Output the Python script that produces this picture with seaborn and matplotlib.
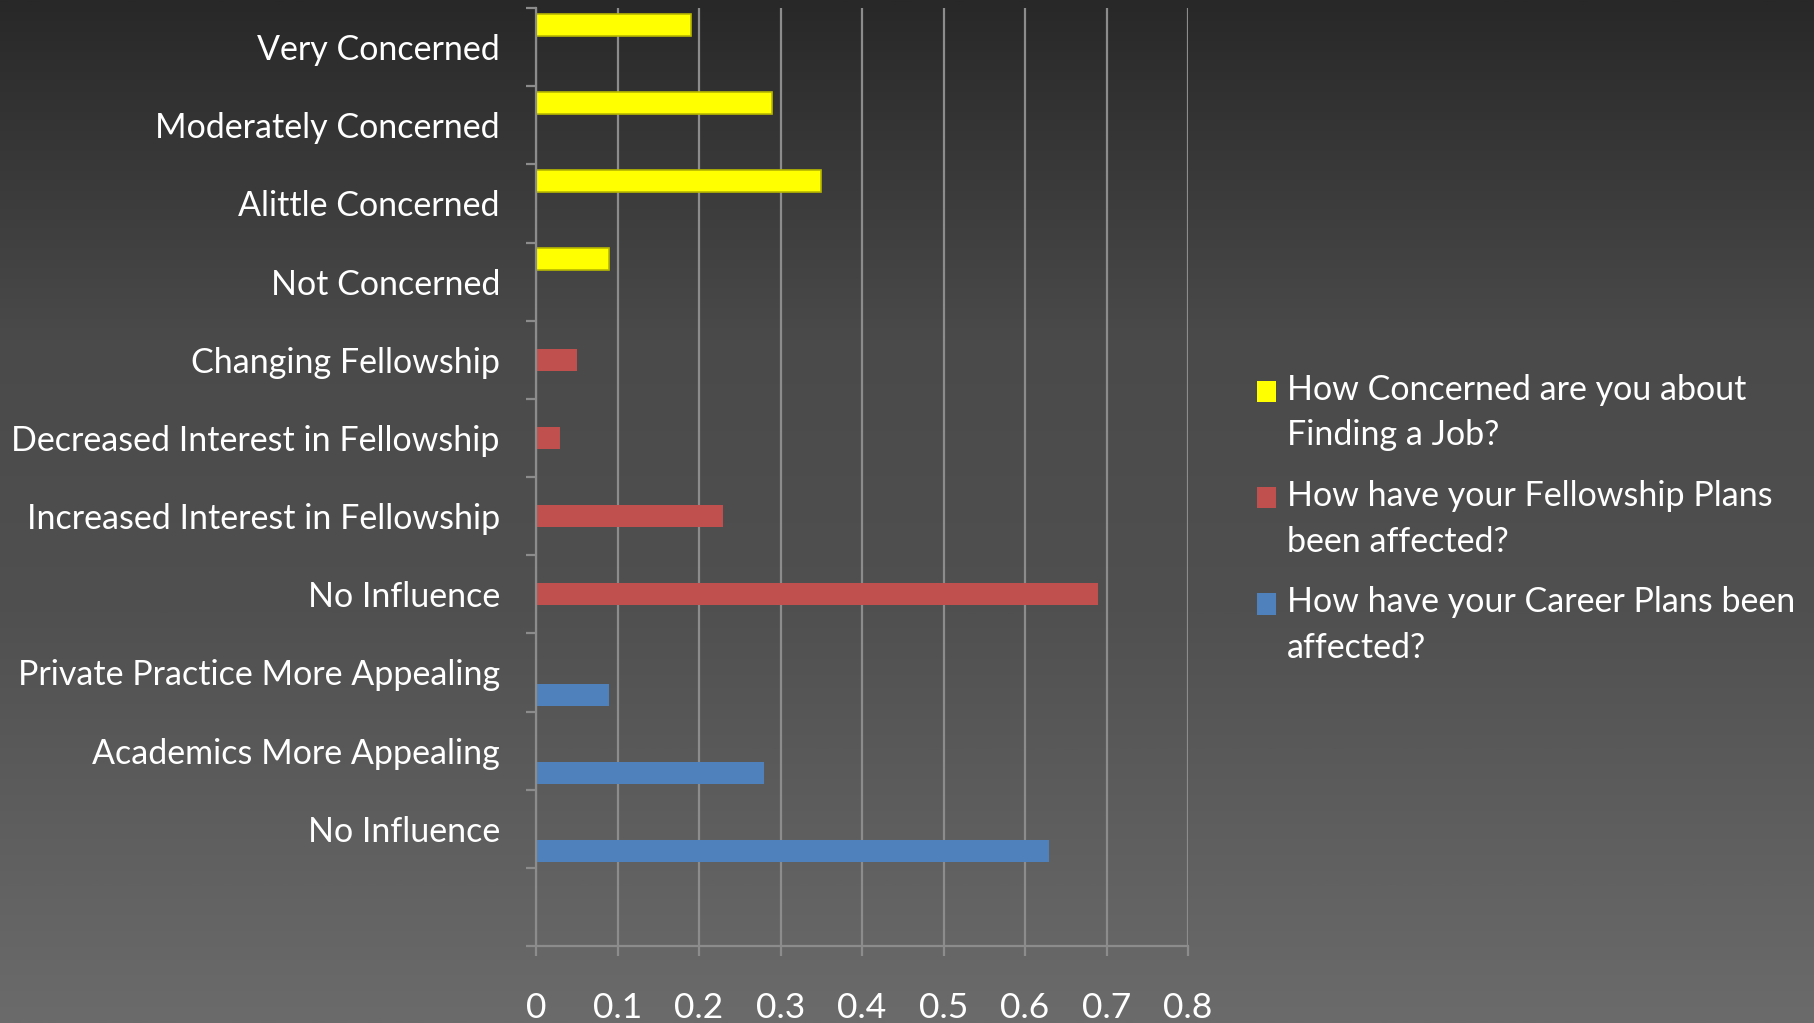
import numpy as np
import pandas as pd
import matplotlib
matplotlib.use("Agg")
import matplotlib.pyplot as plt
import seaborn as sns
from matplotlib.colors import LinearSegmentedColormap
from matplotlib.ticker import FixedLocator

# answers, top to bottom (keys must be unique, labels may repeat)
answer_keys = ["very", "moderately", "alittle", "not",
               "changing", "decreased", "increased", "no_fellow",
               "private", "academics", "no_career"]
answer_labels = ["Very Concerned", "Moderately Concerned", "Alittle Concerned", "Not Concerned",
                 "Changing Fellowship", "Decreased Interest in Fellowship",
                 "Increased Interest in Fellowship", "No Influence",
                 "Private Practice More Appealing", "Academics More Appealing", "No Influence"]

# the three survey questions (legend entries)
questions = ["How Concerned are you about\nFinding a Job?",
             "How have your Fellowship Plans\nbeen affected?",
             "How have your Career Plans been\naffected?"]
answer_question = [0, 0, 0, 0, 1, 1, 1, 1, 2, 2, 2]

# share of respondents
shares = [0.19, 0.29, 0.35, 0.09, 0.05, 0.03, 0.23, 0.69, 0.09, 0.28, 0.63]

x_ticks = [0, 0.1, 0.2, 0.3, 0.4, 0.5, 0.6, 0.7, 0.8]

colors = ["#FFFF00", "#C0504D", "#4F81BD"]

df = pd.DataFrame({
    "answer": answer_keys,
    "question": [questions[i] for i in answer_question],
    "share": shares,
})

sns.set_theme(style="white")
plt.rcParams["font.family"] = ["Lato", "DejaVu Sans"]
FS = 24.5

fig = plt.figure(figsize=(18.14, 10.23), dpi=100)

# dark office-style gradient behind everything
bg_ax = fig.add_axes([0, 0, 1, 1], zorder=-10)
grad_cmap = LinearSegmentedColormap.from_list(
    "bg", [(0.0, "#282828"), (0.33, "#4a4a4a"), (0.6, "#505050"), (1.0, "#6b6b6b")])
bg_ax.imshow(np.linspace(0, 1, 512).reshape(-1, 1), aspect="auto", cmap=grad_cmap,
             extent=[0, 1, 1, 0])
bg_ax.set_xlim(0, 1)
bg_ax.set_ylim(1, 0)
bg_ax.axis("off")

ax = fig.add_axes([536 / 1814, 1 - 946 / 1023, (1188 - 536) / 1814, (946 - 8) / 1023])
ax.set_facecolor("none")

sns.barplot(data=df, x="share", y="answer", hue="question", hue_order=questions,
            order=answer_keys, palette=colors, width=0.855, dodge=True,
            linewidth=0, saturation=1, ax=ax)

# yellow bars get a thin darker outline like the original
for p in ax.patches:
    fc = p.get_facecolor()
    if fc[0] > 0.9 and fc[1] > 0.9 and fc[2] < 0.2:
        p.set_edgecolor("#b8b800")
        p.set_linewidth(1.2)

grid_col = "#8c8c8c"
ax.set_xlim(0, 0.8)
ax.set_ylim(len(answer_keys) + 0.5, -0.5)
ax.set_xticks(x_ticks)
ax.set_xticklabels([f"{t:g}" for t in x_ticks])
ax.xaxis.grid(True, color=grid_col, linewidth=1.6)
ax.set_axisbelow(True)

ax.set_yticks(range(len(answer_keys)))
ax.set_yticklabels(answer_labels)
ax.yaxis.set_minor_locator(FixedLocator(np.arange(-0.5, len(answer_keys) + 1, 1)))
ax.tick_params(axis="y", which="major", length=0, pad=26, labelsize=FS, labelcolor="white")
ax.tick_params(axis="y", which="minor", length=7, width=1.6, color=grid_col, left=True)
ax.tick_params(axis="x", which="major", length=7, width=1.6, color=grid_col, bottom=True,
               pad=26, labelsize=FS + 1, labelcolor="white")
ax.set_xlabel("")
ax.set_ylabel("")

for side in ["top", "right"]:
    ax.spines[side].set_visible(False)
for side in ["left", "bottom"]:
    ax.spines[side].set_color(grid_col)
    ax.spines[side].set_linewidth(1.6)

sns.move_legend(ax, "upper left", bbox_to_anchor=(1243 / 1814, 1 - 360 / 1023),
                bbox_transform=fig.transFigure, frameon=False, title=None,
                fontsize=FS, handlelength=0.58, handleheight=0.58, handletextpad=0.32,
                labelspacing=0.85, borderaxespad=0)
leg = ax.get_legend()
for t in leg.get_texts():
    t.set_color("white")
    t.set_linespacing(1.52)
# put each colour square next to the first line of its label
for p in leg.get_patches():
    p.set_y(p.get_y() + 16.0)

fig.savefig("out.png", dpi=100, facecolor="#3a3a3a")
